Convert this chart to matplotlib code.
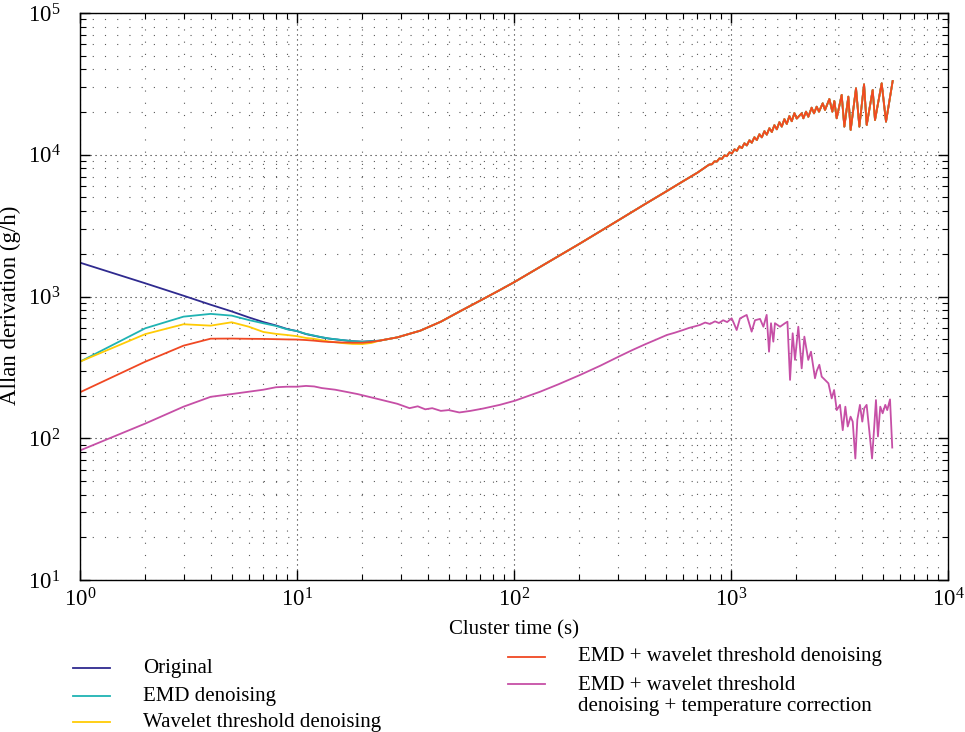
import numpy as np
import matplotlib
matplotlib.use("Agg")
import matplotlib.pyplot as plt
from matplotlib.lines import Line2D

plt.rcParams['font.family'] = ['Liberation Serif', 'DejaVu Serif']
plt.rcParams['mathtext.fontset'] = 'stix'

# shared part of the first four curves (they coincide from ~24 s onward)
tail_tau = [24, 29, 37, 46, 56, 70, 85, 100, 150, 200, 300, 400, 500, 600, 700,
            794, 817, 839, 861, 885, 908, 933, 957, 984, 1009, 1038, 1064, 1094,
            1122, 1153, 1183, 1216, 1247, 1282, 1315, 1352, 1387, 1426, 1462,
            1503, 1542, 1585, 1626, 1671, 1714, 1762, 1807, 1858, 1905, 1959,
            2009, 2117, 2155, 2217, 2272, 2353, 2413, 2482, 2544, 2646, 2712,
            2840, 2931, 2994, 3069, 3236, 3329, 3473, 3560, 3768, 3904, 4103,
            4221, 4497, 4609, 4947, 5180, 5559]
tail_val = [488, 515, 574, 664, 782, 937, 1099, 1260, 1815, 2350, 3420, 4470,
            5480, 6490, 7470,
            8531, 8570, 8979, 8950, 9428, 9352, 9901, 9768, 10400, 10200, 10920,
            10660, 11470, 11140, 12050, 11630, 12660, 12150, 13290, 12700, 13950,
            13270, 14660, 13860, 15390, 14470, 16160, 15120, 16970, 15800, 17830,
            16500, 18730, 17240, 19660, 18000, 19600, 18080, 20130, 18540, 21480,
            19600, 21830, 20130, 23060, 20700, 24720, 20130, 23930, 18080, 26430,
            15780, 25700, 14960, 29450, 15780, 31400, 16220, 28640, 17580, 31920,
            17110, 33110]

head_tau = [1, 2, 3, 4, 5, 6, 7, 8, 9, 10, 11, 12, 13, 14, 16, 18, 20, 22]
original_head = [1733, 1239, 1013, 875, 785, 712, 660, 625, 590, 570, 543, 528,
                 515, 505, 493, 484, 480, 484]
emd_head = [347, 597, 721, 754, 733, 682, 647, 620, 587, 570, 545, 530, 516,
            506, 494, 484, 480, 484]
wavelet_head = [347, 543, 637, 623, 658, 612, 562, 545, 535, 525, 510, 503,
                492, 482, 470, 463, 462, 470]
emd_wavelet_head = [211, 347, 450, 504, 505, 503, 502, 500, 498, 497, 493, 488,
                    482, 478, 474, 472, 472, 478]

temp_tau = [1, 2, 3, 4, 5, 6, 7, 8, 9, 10, 11, 12, 13, 15, 17, 19, 23, 29, 33,
            36, 39, 42, 46, 50, 56, 63, 72, 86, 101, 132, 160, 201, 250, 303,
            350, 402, 450, 506, 550, 603, 640, 680, 719, 760, 800, 844, 880, 920,
            960, 1007, 1030, 1062, 1100, 1140, 1181, 1245, 1290, 1361, 1410,
            1460, 1497, 1529, 1567, 1594, 1682, 1774, 1820, 1871, 1924, 1972,
            2043, 2117, 2178, 2270, 2337, 2438, 2483, 2553, 2618, 2711, 2812,
            2911, 2986, 3071, 3179, 3273, 3365, 3451, 3557, 3638, 3741, 3821,
            3928, 4027, 4113, 4217, 4335, 4467, 4560, 4656, 4755, 4874, 4999,
            5140, 5248, 5405, 5534]
temp_val = [82, 127, 167, 196, 205, 213, 220, 229, 231, 231, 234, 232, 226, 220,
            212, 205, 191, 175, 163, 168, 160, 163, 156, 158, 152, 156, 162, 172,
            184, 213, 240, 279, 325, 376, 418, 460, 495, 535, 555, 581, 600, 615,
            630, 655, 640, 668, 650, 680, 660, 702, 650, 580, 700, 721, 741, 565,
            680, 695, 612, 742, 408, 648, 480, 648, 612, 648, 664, 258, 550, 357,
            612, 311, 521, 357, 408, 265, 298, 330, 272, 258, 244, 191, 219, 158,
            172, 114, 167, 121, 142, 131, 72, 135, 172, 131, 163, 172, 114, 72,
            114, 186, 103, 167, 150, 172, 158, 188, 86]

series = [
    ("Original", head_tau + tail_tau, original_head + tail_val, "#2f2a8f"),
    ("EMD denoising", head_tau + tail_tau, emd_head + tail_val, "#1fb3b3"),
    ("Wavelet threshold denoising", head_tau + tail_tau, wavelet_head + tail_val, "#ffcb05"),
    ("EMD + wavelet threshold denoising", head_tau + tail_tau, emd_wavelet_head + tail_val, "#f04823"),
    ("EMD + wavelet threshold\ndenoising + temperature correction", temp_tau, temp_val, "#c64fa6"),
]

W, H = 965, 732
fig = plt.figure(figsize=(W / 100, H / 100), dpi=100)
ax = fig.add_axes([80 / W, 1 - 580 / H, 868 / W, 567 / H])

for label, x, y, color in series:
    ax.plot(x, y, color=color, lw=1.3)

ax.set_xscale('log')
ax.set_yscale('log')
ax.set_xlim(1, 1e4)
ax.set_ylim(10, 1e5)

ax.grid(True, which='major', color='0.15', lw=0.8, linestyle=(0, (1, 3.5)))
ax.grid(True, which='minor', color='0.35', lw=0.8, linestyle=(0, (1, 10)))

ax.tick_params(which='both', direction='in', top=True, right=True, labelsize=16.5)
ax.tick_params(axis='x', which='major', pad=6)
ax.tick_params(axis='y', which='major', pad=14)
ax.tick_params(which='major', length=7, width=1)
ax.tick_params(which='minor', length=4, width=0.8)
for s in ax.spines.values():
    s.set_linewidth(1.0)

ax.set_xlabel('Cluster time (s)', fontsize=15, labelpad=6)
ax.set_ylabel('Allan derivation (g/h)', fontsize=16.5)
ax.yaxis.set_label_coords(-0.068, 0.485)


# legend below the axes, two columns
def legend_row(x0, y, color, text):
    fig.add_artist(Line2D([x0 / W, (x0 + 37) / W], [1 - y / H, 1 - y / H],
                          color=color, lw=1.3))
    fig.text((x0 + 70) / W, 1 - y / H, text, fontsize=15, va='center',
             linespacing=1.1)


legend_row(73, 668, series[0][3], series[0][0])
legend_row(73, 696, series[1][3], series[1][0])
legend_row(73, 722, series[2][3], series[2][0])
legend_row(508, 657, series[3][3], series[3][0])
legend_row(508, 684, series[4][3], "")
fig.text((508 + 70) / W, 1 - 696 / H, series[4][0], fontsize=15, va='center',
         linespacing=1.1)

fig.savefig('out.png', dpi=100)
